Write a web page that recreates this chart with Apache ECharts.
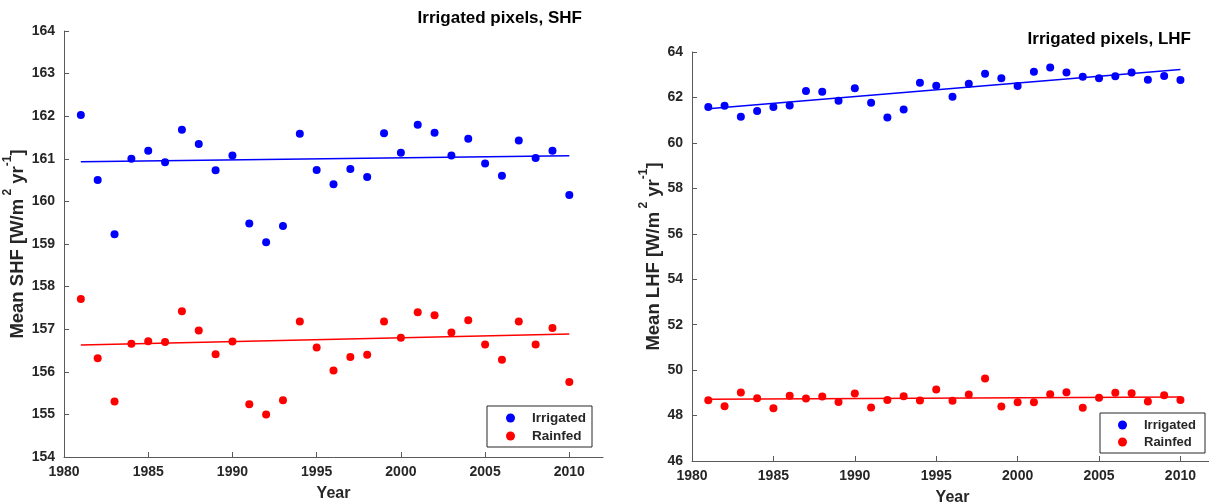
<!DOCTYPE html>
<html>
<head>
<meta charset="utf-8">
<script src="https://cdn.jsdelivr.net/npm/echarts@6/dist/echarts.min.js"></script>
<style>
  html, body { margin: 0; padding: 0; background: #fff; }
  #chart { width: 1209px; height: 503px; }
</style>
</head>
<body>
<div id="chart"></div>
<script>
// Years of record
const years = [1981, 1982, 1983, 1984, 1985, 1986, 1987, 1988, 1989, 1990,
               1991, 1992, 1993, 1994, 1995, 1996, 1997, 1998, 1999, 2000,
               2001, 2002, 2003, 2004, 2005, 2006, 2007, 2008, 2009, 2010];

// Mean sensible heat flux (W/m2 yr-1)
const shfIrrigated = [162.03, 160.50, 159.23, 161.00, 161.19, 160.92, 161.68, 161.35, 160.73, 161.08,
                      159.48, 159.04, 159.42, 161.59, 160.74, 160.40, 160.76, 160.57, 161.60, 161.14,
                      161.80, 161.61, 161.08, 161.47, 160.89, 160.60, 161.43, 161.02, 161.19, 160.15];
const shfRainfed   = [157.71, 156.32, 155.30, 156.66, 156.72, 156.70, 157.42, 156.97, 156.41, 156.71,
                      155.24, 155.00, 155.33, 157.18, 156.57, 156.03, 156.35, 156.40, 157.18, 156.80,
                      157.40, 157.33, 156.92, 157.21, 156.64, 156.28, 157.18, 156.64, 157.03, 155.76];

// Mean latent heat flux (W/m2 yr-1)
const lhfIrrigated = [61.58, 61.63, 61.15, 61.40, 61.58, 61.65, 62.28, 62.25, 61.85, 62.41,
                      61.77, 61.12, 61.47, 62.65, 62.52, 62.03, 62.60, 63.04, 62.85, 62.50,
                      63.13, 63.32, 63.10, 62.91, 62.85, 62.93, 63.10, 62.78, 62.94, 62.77];
const lhfRainfed   = [48.67, 48.41, 49.01, 48.76, 48.32, 48.87, 48.75, 48.84, 48.60, 48.97,
                      48.35, 48.69, 48.85, 48.66, 49.15, 48.65, 48.93, 49.63, 48.40, 48.59,
                      48.59, 48.94, 49.03, 48.34, 48.78, 49.00, 48.98, 48.62, 48.89, 48.69];

// Linear trend, values at the first and last year of record
const trendYears = [1981, 2010];
const shfIrrigatedTrend = [160.93, 161.07];
const shfRainfedTrend   = [156.63, 156.89];
const lhfIrrigatedTrend = [61.50, 63.23];
const lhfRainfedTrend   = [48.72, 48.82];

const yearTicks = [1980, 1985, 1990, 1995, 2000, 2005, 2010];

const BLUE = '#0000ff';
const RED = '#ff0000';
const INK = '#262626';
const AXIS = '#5a5a5a';
const FONT = '"Liberation Sans", Arial, Helvetica, sans-serif';

const pairs = (xs, ys) => xs.map((x, i) => [x, ys[i]]);
const plain = v => String(v);

function xAxisFor(gridIndex) {
  return {
    type: 'value', gridIndex, min: 1980, max: 2012, interval: 5,
    name: 'Year', nameLocation: 'middle', nameGap: 29,
    nameTextStyle: { fontFamily: FONT, fontWeight: 'bold', fontSize: 16, color: INK },
    axisLine: { show: true, lineStyle: { color: AXIS, width: 1 } },
    axisTick: { show: true, inside: true, length: 5, customValues: yearTicks, lineStyle: { color: AXIS } },
    axisLabel: { customValues: yearTicks, formatter: plain, margin: 8,
                 fontFamily: FONT, fontWeight: 'bold', fontSize: 14, color: INK },
    splitLine: { show: false }
  };
}

function yAxisFor(gridIndex, min, max, interval, label, gap) {
  return {
    type: 'value', gridIndex, min, max, interval,
    name: '{t|' + label + ' [W/m}{s| 2}{t| yr}{s|-1}{t|]}',
    nameLocation: 'middle', nameGap: gap, nameRotate: 90,
    nameTextStyle: {
      rich: {
        t: { fontFamily: FONT, fontWeight: 'bold', fontSize: 18.5, color: INK,
             padding: [7, 0, 0, 0], verticalAlign: 'bottom' },
        s: { fontFamily: FONT, fontWeight: 'bold', fontSize: 12, color: INK,
             lineHeight: 12, verticalAlign: 'top' }
      }
    },
    axisLine: { show: true, lineStyle: { color: AXIS, width: 1 } },
    axisTick: { show: true, inside: true, length: 5, lineStyle: { color: AXIS } },
    axisLabel: { formatter: plain, margin: 9, fontFamily: FONT, fontWeight: 'bold', fontSize: 14, color: INK },
    splitLine: { show: false }
  };
}

function scatter(name, data, color, axisIndex) {
  return {
    name, type: 'scatter', data, xAxisIndex: axisIndex, yAxisIndex: axisIndex,
    symbol: 'circle', symbolSize: 8, itemStyle: { color, opacity: 1 },
    emphasis: { disabled: true }, z: 3
  };
}

function fitLine(name, data, color, axisIndex) {
  return {
    name, type: 'line', data, xAxisIndex: axisIndex, yAxisIndex: axisIndex,
    showSymbol: false, symbol: 'none', lineStyle: { color, width: 1.5 },
    emphasis: { disabled: true }, z: 2
  };
}

function legendFor(left, top, fontSize, padding, gap) {
  return {
    data: ['Irrigated', 'Rainfed'], orient: 'vertical', left, top,
    icon: 'circle', itemWidth: 9, itemHeight: 9, itemGap: gap,
    padding, borderColor: INK, borderWidth: 1, borderRadius: 0, backgroundColor: '#fff',
    selectedMode: false,
    textStyle: { fontFamily: FONT, fontWeight: 'bold', fontSize, color: INK, padding: [0, 0, 0, 12], lineHeight: 16 }
  };
}

const chart = echarts.init(document.getElementById('chart'), null, { renderer: 'canvas' });
chart.setOption({
  animation: false,
  backgroundColor: '#fff',
  title: [
    { text: 'Irrigated pixels, SHF', right: 622, top: 5,
      textStyle: { fontFamily: FONT, fontWeight: 'bold', fontSize: 17, color: '#000' } },
    { text: 'Irrigated pixels, LHF', right: 13, top: 26,
      textStyle: { fontFamily: FONT, fontWeight: 'bold', fontSize: 17, color: '#000' } }
  ],
  legend: [
    legendFor(487, 406, 13.5, [4, 6, 3, 19], 2),
    legendFor(1100, 413, 13, [4, 9, 3, 18], 1)
  ],
  grid: [
    { left: 64, right: 606, top: 31, bottom: 46, outerBoundsMode: 'none' },
    { left: 692, right: -4, top: 52, bottom: 42, outerBoundsMode: 'none' }
  ],
  xAxis: [xAxisFor(0), xAxisFor(1)],
  yAxis: [
    yAxisFor(0, 154, 164, 1, 'Mean SHF', 32),
    yAxisFor(1, 46, 64, 2, 'Mean LHF', 22)
  ],
  series: [
    scatter('Irrigated', pairs(years, shfIrrigated), BLUE, 0),
    scatter('Rainfed', pairs(years, shfRainfed), RED, 0),
    fitLine('Irrigated trend SHF', pairs(trendYears, shfIrrigatedTrend), BLUE, 0),
    fitLine('Rainfed trend SHF', pairs(trendYears, shfRainfedTrend), RED, 0),
    scatter('Irrigated', pairs(years, lhfIrrigated), BLUE, 1),
    scatter('Rainfed', pairs(years, lhfRainfed), RED, 1),
    fitLine('Irrigated trend LHF', pairs(trendYears, lhfIrrigatedTrend), BLUE, 1),
    fitLine('Rainfed trend LHF', pairs(trendYears, lhfRainfedTrend), RED, 1)
  ]
});
</script>
</body>
</html>
